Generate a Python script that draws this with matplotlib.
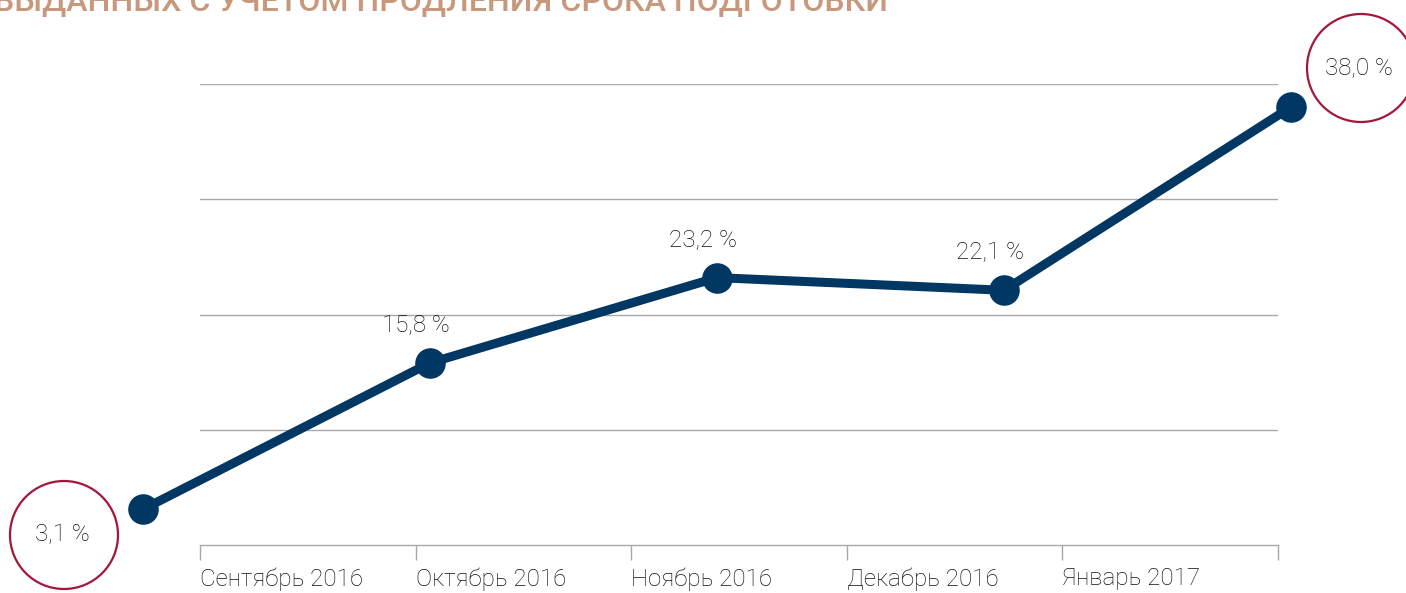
import matplotlib
matplotlib.use("Agg")
import matplotlib.pyplot as plt
from matplotlib.patches import Ellipse

plt.rcParams['font.family'] = ['Roboto', 'DejaVu Sans']

months = ["Сентябрь 2016", "Октябрь 2016", "Ноябрь 2016", "Декабрь 2016", "Январь 2017"]
values = [3.1, 15.8, 23.2, 22.1, 38.0]
labels = ["3,1 %", "15,8 %", "23,2 %", "22,1 %", "38,0 %"]
title = "ВЫДАННЫХ С УЧЕТОМ ПРОДЛЕНИЯ СРОКА ПОДГОТОВКИ"

W, H = 1406, 593
fig = plt.figure(figsize=(W / 100, H / 100), dpi=100)

def fx(px):
    return px / W

def fy(py):
    return (H - py) / H

line_color = "#003763"
grid_color = "#a8a8a8"
text_color = "#111111"
circle_color = "#a3173b"
fs = 17.4

# grid / axis axes
y0, y1 = 545, 84
ax = fig.add_axes([fx(200), fy(y0), fx(1278) - fx(200), fy(y1) - fy(y0)])
ax.set_xlim(0, 5)
ax.set_ylim(0, 40)
for s in ["top", "right", "left"]:
    ax.spines[s].set_visible(False)
ax.spines["bottom"].set_color(grid_color)
ax.spines["bottom"].set_linewidth(1)
ax.set_yticks([10, 20, 30, 40])
ax.yaxis.grid(True, color=grid_color, linewidth=1)
ax.tick_params(axis="y", length=0, labelleft=False)
ax.set_xticks(range(6))
ax.set_xticklabels(months + [""])
ax.tick_params(axis="x", length=11, width=1, color=grid_color, pad=5,
               labelsize=fs, labelcolor=text_color)
for t in ax.get_xticklabels():
    t.set_ha("left")
    t.set_fontweight("light")
ax.set_axisbelow(True)
ax.patch.set_alpha(0)

# line axes
ax2 = fig.add_axes([fx(143), fy(y0), fx(1291) - fx(143), fy(y1) - fy(y0)])
ax2.set_xlim(0, len(values) - 1)
ax2.set_ylim(0, 40)
ax2.axis("off")
ax2.patch.set_alpha(0)
xs = list(range(len(values)))
ax2.plot(xs, values, color=line_color, linewidth=6.5, marker="o", markersize=21,
         solid_capstyle="round", clip_on=False, zorder=3)

# labels for middle points
for i in range(1, len(values) - 1):
    ax2.annotate(labels[i], (xs[i], values[i]), xytext=(-10, 27), textcoords="offset points",
                 ha="center", va="center", fontsize=fs, fontweight="light", color=text_color)

# circled labels at ends
for (cx, cy, lab) in [(64, 535, labels[0]), (1361, 68, labels[-1])]:
    fig.patches.append(Ellipse((fx(cx), fy(cy)), 108 / W, 108 / H, transform=fig.transFigure,
                               fill=False, edgecolor=circle_color, linewidth=1.6))
    fig.text(fx(cx - 2), fy(cy), lab, ha="center", va="center", fontsize=fs,
             fontweight="light", color=text_color)

fig.text(fx(-6), fy(10), title, ha="left", va="baseline", fontsize=23, fontweight="medium",
         color="#c8987c")

fig.savefig("out.png", dpi=100)
